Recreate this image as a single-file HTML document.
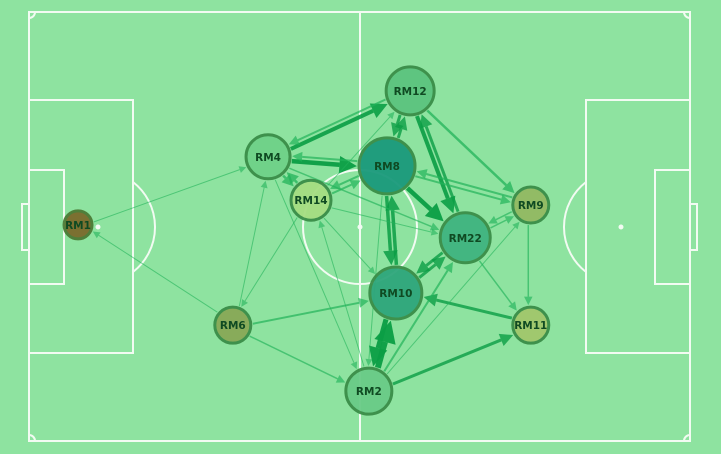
<!DOCTYPE html>
<html><head><meta charset="utf-8"><style>
html,body{margin:0;padding:0;background:#8ee3a0;}
svg{display:block;font-family:"DejaVu Sans","Liberation Sans",sans-serif;}
</style></head><body>
<svg id="chart" width="721" height="454" viewBox="0 0 721 454">
<rect x="0" y="0" width="721" height="454" fill="#8ee3a0"/>
<g id="pitch" stroke="#f2fbf2" stroke-width="2" fill="none">
<rect x="29" y="12" width="661" height="429"/>
<line x1="360" y1="12" x2="360" y2="441"/>
<circle cx="360" cy="227" r="57"/>
<rect x="29" y="100" width="104" height="253"/>
<rect x="29" y="170" width="35" height="114"/>
<rect x="22" y="204" width="7" height="46"/>
<rect x="586" y="100" width="104" height="253"/>
<rect x="655" y="170" width="35" height="114"/>
<rect x="690" y="204" width="7" height="46"/>
<path d="M133,182 A57,57 0 0 1 133,272"/>
<path d="M586,182 A57,57 0 0 0 586,272"/>
<path d="M29,18 A6,6 0 0 0 35,12"/><path d="M684,12 A6,6 0 0 0 690,18"/>
<path d="M35,441 A6,6 0 0 0 29,435"/><path d="M690,435 A6,6 0 0 0 684,441"/>
<circle cx="98" cy="227" r="1.5" fill="#f2fbf2"/>
<circle cx="621" cy="227" r="1.5" fill="#f2fbf2"/>
<circle cx="360" cy="227" r="1.5" fill="#f2fbf2"/>
</g>
<g id="edges"></g>
<g id="nodes"></g>
</svg>
<script>
const names=["RM1","RM12","RM4","RM8","RM14","RM9","RM22","RM10","RM6","RM11","RM2"];
const posX=[8.9,69.2,43.4,65.0,51.2,91.1,79.2,66.6,37.0,91.1,61.7];
const posY=[39.7,14.7,27.0,28.7,35.1,36.0,42.1,52.4,58.4,58.4,70.7];
const sizes=[14,24,22,28,20,18,25,26,18,18,23];
const fills=["#7a6a2c","#5cc47f","#6fd288","#1b9a7c","#a6dd82","#93b962","#3fb480","#2fa67c","#88a957","#a2c76c","#6acb87"];
const edgeFrom=["RM4","RM12","RM4","RM8","RM8","RM12","RM12","RM22","RM12","RM14","RM4","RM14","RM14","RM8","RM8","RM9","RM8","RM8","RM10","RM4","RM14","RM9","RM22","RM9","RM22","RM10","RM22","RM11","RM2","RM10","RM2","RM2","RM2","RM6","RM6","RM6","RM14","RM2","RM4","RM6","RM1","RM14","RM8"];
const edgeTo=["RM12","RM4","RM8","RM4","RM12","RM8","RM22","RM12","RM9","RM12","RM14","RM4","RM8","RM14","RM9","RM8","RM22","RM10","RM8","RM22","RM22","RM22","RM9","RM11","RM10","RM22","RM11","RM10","RM10","RM2","RM11","RM22","RM9","RM10","RM2","RM4","RM6","RM14","RM2","RM1","RM4","RM10","RM2"];
const edgeW=[4,2,4.5,2,3,3,4,3,2.5,1,2.5,2.5,2,2,2,2,4.5,3.5,3.5,1.5,1,1.5,1.5,1.5,3,3,1.5,3,6,5,3,2,1,2,1.5,1,1,1,1,1,1,1,1];
const sx=v=>29+v*5.508, sy=v=>12+v*5.3625;
const NS="http://www.w3.org/2000/svg";
const eg=document.getElementById('edges'), ng=document.getElementById('nodes');
const idx=n=>names.indexOf(n);
for(let i=0;i<edgeFrom.length;i++){
  const a=idx(edgeFrom[i]), b=idx(edgeTo[i]);
  let x1=sx(posX[a]),y1=sy(posY[a]),x2=sx(posX[b]),y2=sy(posY[b]);
  const dx=x2-x1,dy=y2-y1,L=Math.hypot(dx,dy),ux=dx/L,uy=dy/L,px=-uy*2.5,py=ux*2.5;
  const w=edgeW[i];
  const sx1=x1+ux*(sizes[a]+2)+px, sy1=y1+uy*(sizes[a]+2)+py;
  const ex=x2-ux*(sizes[b]+2)+px, ey=y2-uy*(sizes[b]+2)+py;
  const hl=4+w*3, hw=2+w*1.5;
  const bx=ex-ux*hl, by=ey-uy*hl;
  const col=w>=3?"#0b9e45":"#22b35a";
  const op=Math.min(0.95,0.5+w*0.1);
  const ln=document.createElementNS(NS,'line');
  
  
  ln.setAttribute('x1',sx1);ln.setAttribute('y1',sy1);ln.setAttribute('x2',bx);ln.setAttribute('y2',by);
  ln.setAttribute('stroke',col);ln.setAttribute('stroke-width',w);ln.setAttribute('opacity',op);
  eg.appendChild(ln);
  const hd=document.createElementNS(NS,'polygon');
  
  
  hd.setAttribute('points',`${ex},${ey} ${bx-uy*hw},${by+ux*hw} ${bx+uy*hw},${by-ux*hw}`);
  hd.setAttribute('fill',col);hd.setAttribute('opacity',op);
  eg.appendChild(hd);
}
for(let i=0;i<names.length;i++){
  const g=document.createElementNS(NS,'g');
  
  
  const c=document.createElementNS(NS,'circle');
  c.setAttribute('cx',sx(posX[i]));c.setAttribute('cy',sy(posY[i]));c.setAttribute('r',sizes[i]);
  c.setAttribute('fill',fills[i]);c.setAttribute('stroke',i==0?'#4b7a35':'#3a8d48');c.setAttribute('stroke-width',3);
  c.setAttribute('opacity',0.95);
  g.appendChild(c);
  const t=document.createElementNS(NS,'text');
  
  
  t.setAttribute('x',sx(posX[i]));t.setAttribute('y',sy(posY[i])+4);
  t.setAttribute('text-anchor','middle');t.setAttribute('font-size','10.5');t.setAttribute('font-weight','bold');
  t.setAttribute('fill','#0f4a22');
  t.textContent=names[i];
  g.appendChild(t);
  ng.appendChild(g);
}
</script>
</body></html>
